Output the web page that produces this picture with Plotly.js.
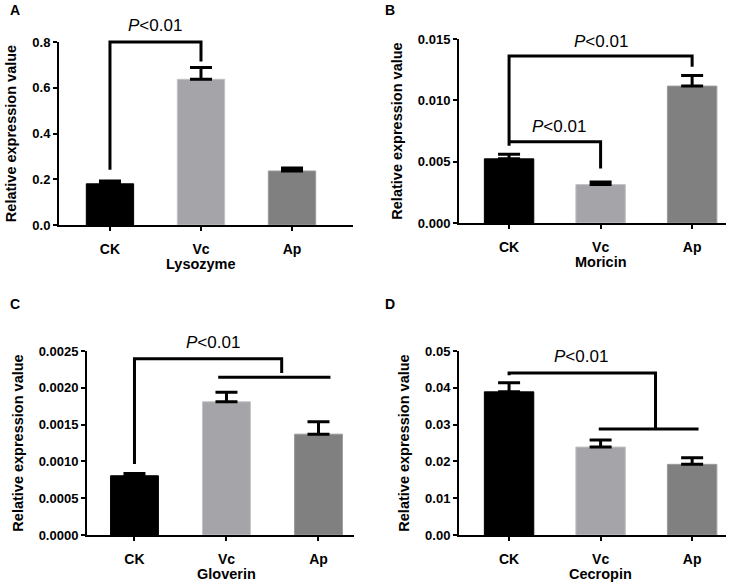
<!DOCTYPE html>
<html>
<head>
<meta charset="utf-8">
<script src="https://cdn.plot.ly/plotly-3.0.1.min.js"></script>
<style>
  html, body { margin: 0; padding: 0; background: #fff; }
  #chart { width: 743px; height: 587px; }
</style>
</head>
<body>
<div id="chart"></div>
<script>
// groups on every panel
var groups = ['CK', 'Vc', 'Ap'];
var barColors = ['#000000', '#a4a4a9', '#808080'];
var edgeColors = ['#000000', '#c2c2c6', '#9a9a9a'];

// bar heights and upper error
var lysozyme = [0.180, 0.637, 0.236];
var lysozymeErr = [0.012, 0.052, 0.013];
var moricin = [0.00523, 0.00313, 0.01116];
var moricinErr = [0.00038, 0.00022, 0.00087];
var gloverin = [0.000805, 0.00181, 0.00137];
var gloverinErr = [0.00003, 0.00013, 0.00017];
var cecropin = [0.0389, 0.0239, 0.0192];
var cecropinErr = [0.0025, 0.0019, 0.0018];

// y axis ticks per panel
var yMax = [0.8, 0.015, 0.0025, 0.05];
var yStep = [0.2, 0.005, 0.0005, 0.01];
var yFormat = ['.1f', '.3f', '.4f', '.2f'];

var geneNames = ['Lysozyme', 'Moricin', 'Gloverin', 'Cecropin'];
var letters = ['A', 'B', 'C', 'D'];

// significance brackets: [x-from, x-to, y-left-foot, y-top, y-right-foot]
var bracketsA = [[0, 1, 0.241, 0.8, 0.715]];
var bracketsB = [[0, 2, 0.00629, 0.01361, 0.01274], [0, 1, 0.00662, 0.00662, 0.00444]];
var bracketsC = [[0, 1.6, 0.000964, 0.002395, 0.0022]];
var bracketsD = [[0, 1.6, 0.0434, 0.0440, 0.029]];
// extra horizontal bar grouping Vc + Ap: [x-from, x-to, y]
var groupLineC = [0.91, 2.13, 0.002145];
var groupLineD = [0.98, 2.07, 0.0288];
// p-value labels: [x, y]
var pLabels = [[[0.5, 0.87]], [[1, 0.01476], [0.55, 0.0079]], [[0.85, 0.00262]], [[0.79, 0.0486]]];

var W = 743, H = 587;
// subplot boxes in pixels: [left, right, top, bottom]
var boxes = [[59, 353, 42, 225], [459, 726, 39, 223], [87, 354, 351, 535], [459, 726, 351, 535]];
var xRanges = [[-0.56, 2.67], [-0.547, 2.37], [-0.516, 2.386], [-0.547, 2.37]];
var barWidths = [0.52, 0.54, 0.52, 0.54];
var letterPos = [[15, 10], [390, 10], [15, 304], [390, 304]];

var FONT = 'Liberation Sans, Arial, sans-serif';

var values = [lysozyme, moricin, gloverin, cecropin];
var errors = [lysozymeErr, moricinErr, gloverinErr, cecropinErr];
var brackets = [bracketsA, bracketsB, bracketsC, bracketsD];
var groupLines = [null, null, groupLineC, groupLineD];

var traces = [];
var layout = {
  width: W, height: H,
  margin: {l: 0, r: 0, t: 0, b: 0},
  paper_bgcolor: '#fff', plot_bgcolor: '#fff',
  showlegend: false,
  font: {family: FONT, color: '#000'},
  shapes: [], annotations: []
};

for (var p = 0; p < 4; p++) {
  var sfx = p === 0 ? '' : String(p + 1);
  var xa = 'x' + sfx, ya = 'y' + sfx;
  var b = boxes[p];
  var m = yMax[p];

  traces.push({
    type: 'bar',
    x: groups,
    y: values[p],
    xaxis: xa, yaxis: ya,
    width: barWidths[p],
    marker: {color: barColors, line: {color: edgeColors, width: 1}},
    error_y: {
      type: 'data', symmetric: false,
      array: errors[p], arrayminus: [0, 0, 0],
      color: '#000', thickness: 3, width: 11
    },
    hoverinfo: 'x+y'
  });

  var tickVals = [];
  for (var k = 0; k <= Math.round(m / yStep[p]); k++) tickVals.push(k * yStep[p]);

  layout['xaxis' + sfx] = {
    domain: [b[0] / W, b[1] / W],
    anchor: ya,
    type: 'category',
    range: xRanges[p],
    showline: true, linewidth: 2, linecolor: '#000',
    ticks: 'outside', ticklen: 4, tickwidth: 2, tickcolor: '#000',
    ticklabelstandoff: 6,
    tickfont: {family: FONT, size: 14, weight: 'bold', color: '#000'},
    showgrid: false, zeroline: false, fixedrange: true
  };
  layout['yaxis' + sfx] = {
    domain: [1 - b[3] / H, 1 - b[2] / H],
    anchor: xa,
    range: [0, m],
    tickvals: tickVals,
    tickformat: yFormat[p],
    showline: true, linewidth: 2, linecolor: '#000',
    ticks: 'outside', ticklen: 4, tickwidth: 2, tickcolor: '#000',
    tickfont: {family: FONT, size: 13, weight: 'bold', color: '#000'},
    title: {text: 'Relative expression value', standoff: 12,
            font: {family: FONT, size: 14.5, weight: 'bold', color: '#000'}},
    showgrid: false, zeroline: false, fixedrange: true
  };

  // brackets (yref domain so lines and labels above the axis end still show)
  var yd = ya + ' domain';
  brackets[p].forEach(function (br) {
    layout.shapes.push({
      type: 'path', xref: xa, yref: yd,
      path: 'M' + br[0] + ',' + (br[2] / m) + ' L' + br[0] + ',' + (br[3] / m) +
            ' L' + br[1] + ',' + (br[3] / m) + ' L' + br[1] + ',' + (br[4] / m),
      line: {color: '#000', width: 3}
    });
  });
  if (groupLines[p]) {
    var g = groupLines[p];
    layout.shapes.push({
      type: 'line', xref: xa, yref: yd,
      x0: g[0], x1: g[1], y0: g[2] / m, y1: g[2] / m,
      line: {color: '#000', width: 3}
    });
  }

  pLabels[p].forEach(function (lb) {
    layout.annotations.push({
      xref: xa, yref: yd, x: lb[0], y: lb[1] / m,
      text: '<i>P</i>&lt;0.01', showarrow: false,
      xanchor: 'center', yanchor: 'middle',
      font: {family: FONT, size: 17, color: '#000'}
    });
  });

  // gene name under the axis, centred on the middle group
  layout.annotations.push({
    xref: xa, yref: yd, x: 1, y: 0,
    text: geneNames[p], showarrow: false,
    xanchor: 'center', yanchor: 'middle', yshift: -39,
    font: {family: FONT, size: 14.5, weight: 'bold', color: '#000'}
  });

  // panel letter
  layout.annotations.push({
    xref: 'paper', yref: 'paper',
    x: letterPos[p][0] / W, y: 1 - letterPos[p][1] / H,
    text: letters[p], showarrow: false,
    xanchor: 'center', yanchor: 'middle',
    font: {family: FONT, size: 14, weight: 'bold', color: '#000'}
  });
}

Plotly.newPlot('chart', traces, layout, {displayModeBar: false, staticPlot: true});
</script>
</body>
</html>
